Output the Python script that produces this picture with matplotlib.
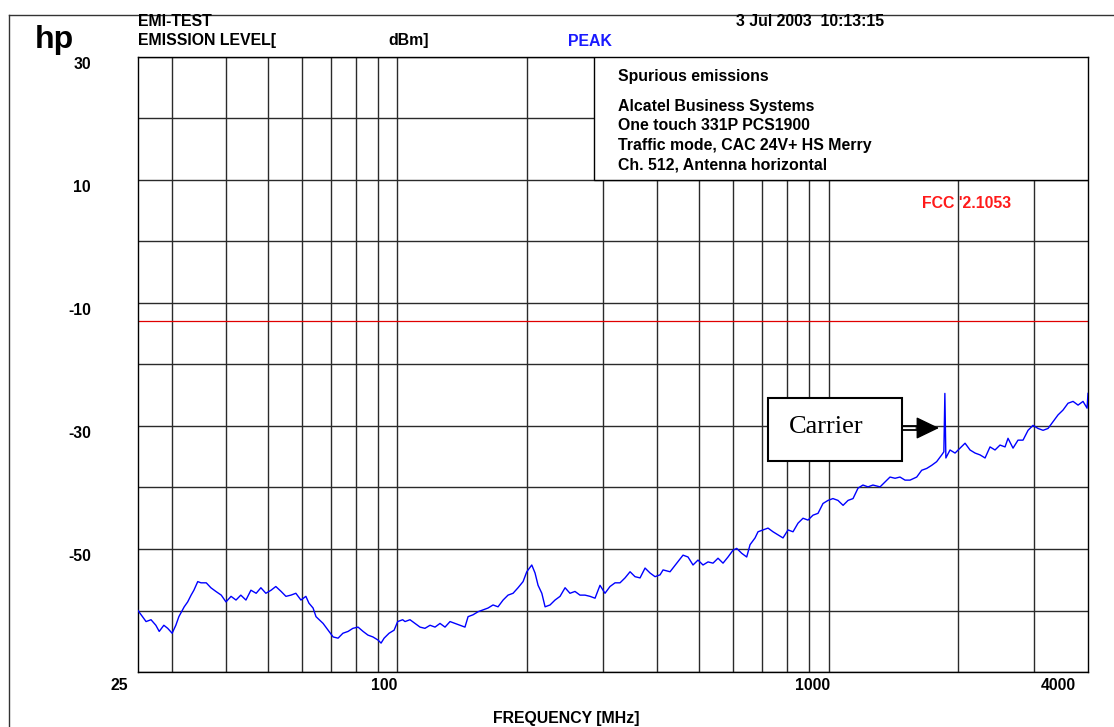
import matplotlib
matplotlib.use("Agg")
import matplotlib.pyplot as plt
from matplotlib.patches import Rectangle

# trace (MHz, dBm)
freq_mhz = [25.0, 25.6, 26.1, 26.8, 27.5, 28.0, 28.7, 29.3, 30.0, 30.6, 31.1, 32.0, 32.6,
            33.2, 33.7, 34.4, 35.0, 36.0, 36.9, 37.9, 39.0, 40.0, 41.1, 42.2, 43.3, 44.5,
            45.7, 47.0, 48.2, 49.5, 50.9, 52.2, 53.7, 55.1, 56.6, 58.1, 59.7, 61.3, 62.3,
            63.7, 64.7, 65.8, 67.2, 69.0, 70.9, 72.8, 74.7, 76.8, 78.8, 81.0, 83.2, 85.4,
            87.7, 90.1, 91.6, 93.1, 95.6, 98.2, 100.1, 102.8,
            104.1, 106.9, 109.8, 112.8, 115.8, 119.0, 122.2, 125.5, 128.9, 132.4, 136.0,
            139.7, 143.4, 145.8, 149.7, 153.8, 157.9, 162.2, 166.6, 171.1, 175.8, 180.5,
            185.4, 190.4, 195.6, 199.5, 204.9, 208.5, 211.9, 216.2, 220.0, 225.9, 232.0,
            238.3, 244.8, 251.3, 258.1, 265.1, 272.3, 279.7, 287.3, 295.0, 303.0, 311.2,
            319.7, 328.3, 337.2, 346.4, 355.7, 365.4, 375.3, 385.4, 395.9, 406.6,
            413.2, 428.9, 444.5, 459.7, 472.1, 484.9, 498.0, 511.5, 525.4, 539.6, 554.2,
            569.2, 584.6, 600.4, 612.4, 629.0, 646.0, 657.6, 675.4, 686.2, 704.8, 723.9,
            743.5, 763.6, 784.2, 805.5, 827.3, 849.7, 872.7, 896.3, 920.5, 945.5, 971.0,
            997.3, 1024, 1052, 1081, 1110, 1140, 1171, 1202, 1235, 1268, 1317, 1352, 1389,
            1427, 1465, 1505, 1546,
            1602, 1645, 1690, 1735, 1782, 1831, 1852, 1862, 1872, 1914, 1966, 2019, 2074,
            2130, 2188, 2247, 2308, 2370, 2434, 2500, 2568, 2609, 2680, 2752, 2827, 2904,
            2982, 3063, 3146, 3231, 3318, 3408, 3501, 3595, 3693, 3793, 3895, 3980, 4000]
level_dbm = [-60.0, -61.0, -61.8, -61.5, -62.4, -63.4, -62.4, -62.9, -63.7, -62.4, -61.0, -59.4, -58.6,
             -57.5, -56.7, -55.3, -55.5, -55.5, -56.3, -56.9, -57.5, -58.6, -57.7, -58.3, -57.5, -58.3,
             -56.7, -57.2, -56.3, -57.2, -56.7, -56.1, -56.9, -57.7, -57.5, -57.2, -58.3, -57.7, -58.8,
             -59.6, -61.0, -61.5, -62.1, -63.2, -64.3, -64.5, -63.7, -63.4, -62.9, -62.7, -63.4, -64.0,
             -64.3, -64.8, -65.3, -64.5, -63.7, -63.2, -61.8, -61.5,
             -61.8, -61.5, -62.1, -62.7, -62.9, -62.4, -62.7, -62.1, -62.7, -61.8, -62.1,
             -62.4, -62.7, -61.0, -60.7, -60.2, -59.9, -59.6, -59.1, -59.4, -58.3, -57.5,
             -57.2, -56.3, -55.3, -53.7, -52.6, -53.9, -55.9, -57.2, -59.4, -59.1, -58.3,
             -57.7, -56.3, -57.2, -56.9, -57.5, -57.5, -57.7, -58.0, -55.9, -57.2, -56.1,
             -55.5, -55.5, -54.7, -53.7, -54.5, -54.7, -53.1, -53.9, -54.5, -54.2,
             -53.4, -53.7, -52.3, -51.0, -51.3, -52.6, -51.8, -52.6, -52.1, -52.3, -51.5,
             -52.3, -51.3, -50.2, -49.9, -50.7, -51.3, -49.3, -48.2, -47.2, -46.9, -46.6,
             -47.2, -47.7, -48.2, -46.9, -47.2, -45.8, -45.0, -45.3, -44.5, -44.2, -42.6,
             -42.1, -41.8, -42.1, -42.9, -42.1, -41.8, -40.1, -39.6, -39.9, -39.6, -39.9, -39.1, -38.3,
             -38.5, -38.3, -38.8, -38.8,
             -38.3, -37.2, -36.9, -36.4, -35.8, -34.7, -34.2, -24.7, -35.2, -33.9, -34.4, -33.6, -32.8,
             -33.9, -34.4, -34.7, -35.2, -33.4, -33.9, -33.1, -33.4, -32.0, -33.6, -32.3, -32.3, -30.7,
             -29.9, -30.4, -30.7, -30.4, -29.3, -28.2, -27.4, -26.3, -26.0, -26.6, -26.0, -27.1, -24.7]

limit_dbm = -13
x_grid = [30, 40, 50, 60, 70, 80, 90, 100, 200, 300, 400, 500, 600, 700, 800, 900,
          1000, 2000, 3000]
y_grid = list(range(-70, 31, 10))
y_labels = {30: "30", 10: "10", -10: "-10", -30: "-30", -50: "-50"}
x_labels = ["25", "100", "1000", "4000"]
info_lines = ["Alcatel Business Systems", "One touch 331P PCS1900",
              "Traffic mode, CAC 24V+ HS Merry", "Ch. 512, Antenna horizontal"]

W, H = 1114, 727
fig = plt.figure(figsize=(W / 100, H / 100), dpi=100)
plt.rcParams['font.family'] = ['Liberation Sans', 'DejaVu Sans']


def px(x, y):
    return x / W, 1 - y / H


ax = fig.add_axes([138 / W, 1 - 672 / H, 950 / W, 615 / H])
ax.set_xscale('log')
ax.set_xlim(25, 4000)
ax.set_ylim(-70, 30)

for xv in x_grid:
    ax.axvline(xv, color='#2a2a2a', lw=1.0, zorder=1)
for yv in y_grid:
    ax.axhline(yv, color='#2a2a2a', lw=1.0, zorder=1)

ax.set_xticks([])
ax.set_xticks([], minor=True)
ax.set_yticks(y_grid)
ax.set_yticklabels([y_labels.get(v, "") for v in y_grid], fontweight='bold', fontsize=11.3)
ax.tick_params(axis='y', length=0, pad=34)
for lab in ax.get_yticklabels():
    lab.set_verticalalignment('top')
for s in ax.spines.values():
    s.set_color('black')
    s.set_linewidth(1.0)

# info box over upper right corner
ax.add_patch(Rectangle(((594 - 138) / 950, 0.8), 1 - (594 - 138) / 950, 0.2,
                       transform=ax.transAxes, facecolor='white', edgecolor='black',
                       lw=1.0, zorder=3))

ax.axhline(limit_dbm, color='#e00000', lw=0.9, zorder=2)
ax.plot(freq_mhz, level_dbm, color='#0000ff', lw=1.0, zorder=4)

# x labels
lab_kw = dict(va='center', fontsize=11.3, fontweight='bold', clip_on=False)
ax.text(23.7, -72.2, x_labels[0], ha='right', **lab_kw)
ax.text(100, -72.2, x_labels[1], ha='right', **lab_kw)
ax.text(1010, -72.2, x_labels[2], ha='right', **lab_kw)
ax.text(3100, -72.2, x_labels[3], ha='left', **lab_kw)

fs = 11.4
fig.text(*px(35, 40), "hp", fontsize=23, fontweight='bold', va='center', ha='left')
fig.text(*px(138, 22), "EMI-TEST", fontsize=fs, fontweight='bold', va='center')
fig.text(*px(138, 41), "EMISSION LEVEL[", fontsize=fs, fontweight='bold', va='center')
fig.text(*px(388, 41), "dBm]", fontsize=fs, fontweight='bold', va='center')
fig.text(*px(568, 41), "PEAK", fontsize=fs, fontweight='bold', va='center', color='#1a1aff')
fig.text(*px(736, 22), "3 Jul 2003  10:13:15", fontsize=fs, fontweight='bold', va='center')
fig.text(*px(618, 77), "Spurious emissions", fontsize=fs, fontweight='bold', va='center',
         zorder=5)
for i, line in enumerate(info_lines):
    fig.text(*px(618, 106 + i * 19.7), line, fontsize=fs, fontweight='bold', va='center',
             zorder=5)
fig.text(*px(922, 204), "FCC '2.1053", fontsize=fs, fontweight='bold', va='center',
         color='#ff1a1a')
fig.text(*px(566, 718), "FREQUENCY [MHz]", fontsize=fs, fontweight='bold', va='center',
         ha='center')

# carrier callout: box, double-line shaft, filled head
fig.patches.append(Rectangle(px(768, 461), 134 / W, 63 / H, transform=fig.transFigure,
                             facecolor='white', edgecolor='black', lw=1.5, zorder=6))
fig.text(*px(826, 427), "Carrier", family=['Liberation Serif', 'DejaVu Serif'], fontsize=19,
         ha='center', va='center', zorder=7)
ax.annotate("", xy=(939, H - 428), xytext=(916, H - 428), xycoords='figure pixels',
            textcoords='figure pixels',
            arrowprops=dict(arrowstyle='-|>,head_length=1.45,head_width=0.7', lw=1,
                            color='black', shrinkA=0, shrinkB=0), zorder=7)
for dy in (-2, 2):
    fig.lines.append(plt.Line2D([902 / W, 920 / W], [1 - (428 + dy) / H, 1 - (428 + dy) / H],
                                transform=fig.transFigure, color='black', lw=1.3, zorder=8))

# outer frame
fig.lines.append(plt.Line2D([9 / W, 1], [1 - 15 / H, 1 - 15 / H], transform=fig.transFigure,
                            color='#333333', lw=1.0))
fig.lines.append(plt.Line2D([9 / W, 9 / W], [0, 1 - 15 / H], transform=fig.transFigure,
                            color='#333333', lw=1.0))

fig.savefig("out.png", dpi=100)
